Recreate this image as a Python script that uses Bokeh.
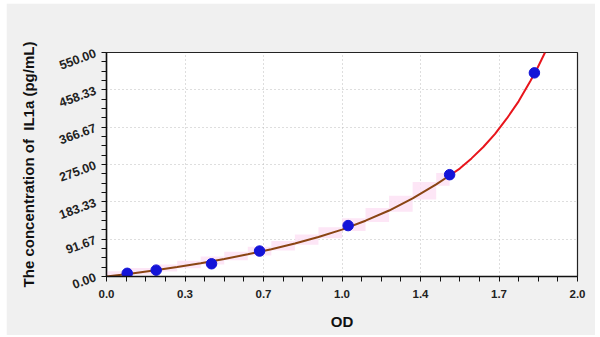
from bokeh.plotting import figure
from bokeh.models import FixedTicker, Range1d
from bokeh.embed import file_html
from bokeh.resources import INLINE

# standard points (OD, concentration)
od = [0.088, 0.211, 0.446, 0.650, 1.026, 1.457, 1.817]
conc = [7.8, 15.6, 31.3, 62.5, 125.0, 250.0, 500.0]

# fitted curve
curve_x = [0.0, 0.1, 0.2, 0.3, 0.4, 0.5, 0.6, 0.7, 0.8, 0.9, 1.0, 1.1, 1.2, 1.3, 1.4, 1.457,
           1.5, 1.55, 1.6, 1.65, 1.7, 1.75, 1.8, 1.83, 1.862]
curve_y = [0, 7, 15, 23.5, 32.5, 43, 54.5, 67, 81, 97, 115, 137, 162, 192, 226, 248,
           265, 290, 318, 350, 388, 430, 480, 512, 550]
fit_end = 1.457  # brown segment ends at last-but-one standard

x_ticks = [0.0, 1/3, 2/3, 1.0, 4/3, 5/3, 2.0]
x_labels = ["0.0", "0.3", "0.7", "1.0", "1.4", "1.7", "2.0"]
y_ticks = [0.0, 91.67, 183.33, 275.0, 366.67, 458.33, 550.0]
y_labels = ["0.00", "91.67", "183.33", "275.00", "366.67", "458.33", "550.00"]

FONT = "Liberation Sans"

p = figure(frame_width=471, frame_height=224, output_backend="svg", toolbar_location=None,
           x_range=Range1d(0, 2), y_range=Range1d(0, 550),
           min_border_left=100, min_border_right=18, min_border_top=49, min_border_bottom=59,
           margin=(3, 5, 2, 6))
p.border_fill_color = "#f0f0f0"
p.background_fill_color = "white"
p.outline_line_color = "#222222"
p.outline_line_width = 1.2

# minor ticks: 4 intervals per major
def minors(ticks):
    out = []
    for a, b in zip(ticks[:-1], ticks[1:]):
        for k in range(1, 4):
            out.append(a + (b - a) * k / 4)
    return out

p.xaxis.ticker = FixedTicker(ticks=x_ticks, minor_ticks=minors(x_ticks))
p.yaxis.ticker = FixedTicker(ticks=y_ticks, minor_ticks=minors(y_ticks))
p.xaxis.major_label_overrides = {t: l for t, l in zip(x_ticks, x_labels)}
p.yaxis.major_label_overrides = {t: l for t, l in zip(y_ticks, y_labels)}

for ax in (p.xaxis, p.yaxis):
    ax.axis_line_color = "#111111"
    ax.axis_line_width = 1.5
    ax.major_tick_line_color = "#111111"
    ax.minor_tick_line_color = "#111111"
    ax.major_tick_in = 0
    ax.major_tick_out = 5
    ax.minor_tick_in = 0
    ax.minor_tick_out = 5
    ax.major_label_text_font = FONT
    ax.major_label_text_font_style = "bold"
    ax.major_label_text_color = "#222222"
    ax.axis_label_text_font = FONT
    ax.axis_label_text_font_style = "bold"
    ax.axis_label_text_font_size = "15px"
    ax.axis_label_text_color = "#111111"

p.xaxis.major_label_text_font_size = "11.5px"
p.yaxis.major_label_text_font_size = "12.5px"
p.yaxis.major_label_orientation = 0.35
p.yaxis.major_label_standoff = 6
p.xaxis.major_label_standoff = 8
p.xaxis.axis_label = "OD"
p.xaxis.axis_label_standoff = 12
p.yaxis.axis_label = "The concentration of \u00a0IL1a (pg/mL)"
p.yaxis.axis_label_standoff = 16

p.grid.grid_line_color = "#bdbdbd"
p.grid.grid_line_dash = "1 3"
p.grid.grid_line_width = 1

# pink band of small rectangles along the fitted part
lx, rx, bt, tp = [], [], [], []
for i in range(len(curve_x) - 1):
    if curve_x[i + 1] <= fit_end:
        lx.append(curve_x[i])
        rx.append(curve_x[i + 1])
        bt.append(curve_y[i] - 3)
        tp.append(curve_y[i + 1] + 6)
p.quad(left=lx, right=rx, bottom=bt, top=tp, fill_color="#fde0f4", fill_alpha=0.8, line_color=None)

# red curve beyond the fit range, brown fit over the standards range
k = curve_x.index(fit_end)
p.line(curve_x[k:], curve_y[k:], line_color="#e8151c", line_width=2)
p.line(curve_x[:k + 1], curve_y[:k + 1], line_color="#8a4513", line_width=2)

p.scatter(od, conc, size=10.5, fill_color="#1414d8", line_color="#1414d8")

open("out.html", "w").write(file_html(p, INLINE))
